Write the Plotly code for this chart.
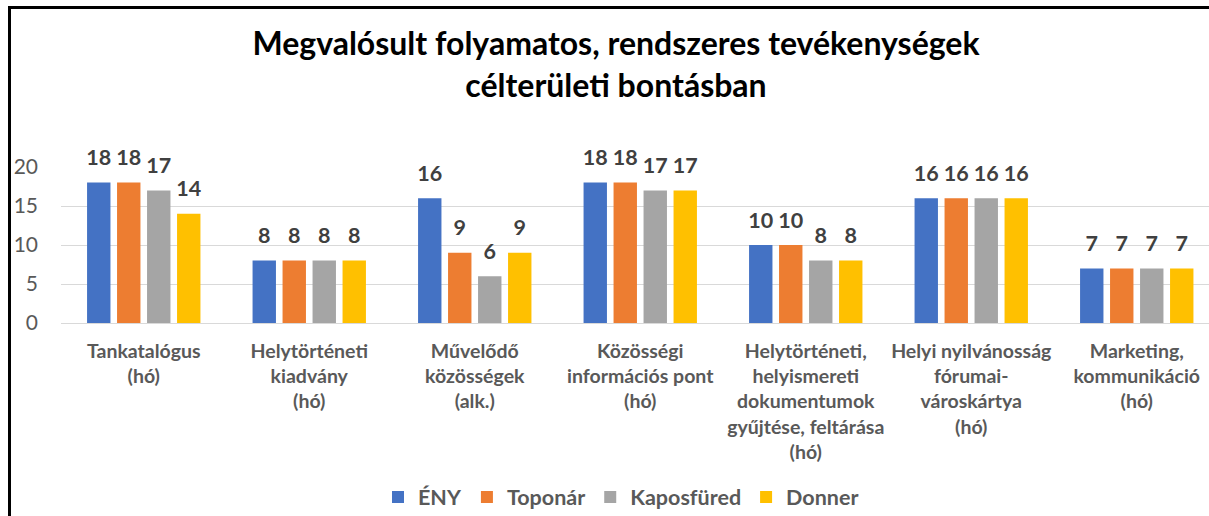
import plotly.graph_objects as go

categories = [
    "Tankatalógus<br>(hó)",
    "Helytörténeti<br>kiadvány<br>(hó)",
    "Művelődő<br>közösségek<br>(alk.)",
    "Közösségi<br>információs pont<br>(hó)",
    "Helytörténeti,<br>helyismereti<br>dokumentumok<br>gyűjtése, feltárása<br>(hó)",
    "Helyi nyilvánosság<br>fórumai-<br>városkártya<br>(hó)",
    "Marketing,<br>kommunikáció<br>(hó)",
]
series_names = ["ÉNY", "Toponár", "Kaposfüred", "Donner"]
eny = [18, 8, 16, 18, 10, 16, 7]
toponar = [18, 8, 9, 18, 10, 16, 7]
kaposfured = [17, 8, 6, 17, 8, 16, 7]
donner = [14, 8, 9, 17, 8, 16, 7]
series_values = [eny, toponar, kaposfured, donner]
colors = ["#4472C4", "#ED7D31", "#A5A5A5", "#FFC000"]
y_ticks = [0, 5, 10, 15, 20]

FONT = "Lato, 'Open Sans', sans-serif"
TXT = "#595959"
W, H = 1209, 516
L, T, B = 61, 167, 193
SLOT = 165.5
BARGAP = 0.275

fig = go.Figure()
for name, vals, col in zip(series_names, series_values, colors):
    fig.add_trace(go.Bar(
        x=categories, y=vals, name=name, marker_color=col,
        marker_line_width=0, hoverinfo="y+name",
    ))
for name, vals in zip(series_names, series_values):
    fig.add_trace(go.Scatter(
        x=categories, y=vals, mode="markers+text", text=[str(v) for v in vals],
        textposition="top center", showlegend=False, hoverinfo="skip",
        marker=dict(size=17.6, opacity=0, color="white"),
        textfont=dict(family=FONT, size=21.5, color="#404040", weight="bold"),
        cliponaxis=False,
    ))

plot_w = W - L
fig.update_layout(
    width=W, height=H,
    margin=dict(l=L, r=0, t=T, b=B, pad=0),
    paper_bgcolor="white", plot_bgcolor="white",
    barmode="group", bargap=BARGAP, bargroupgap=0.22,
    scattermode="group", scattergap=BARGAP,
    font=dict(family=FONT, color=TXT),
    title=dict(
        text="<b>Megvalósult folyamatos, rendszeres tevékenységek<br>célterületi bontásban</b>",
        font=dict(family=FONT, size=32, color="black", weight=900),
        x=616 / W, xanchor="center", xref="container",
        y=1 - 55 / H, yanchor="top", yref="container",
    ),
    xaxis=dict(
        type="category",
        range=[-0.5, -0.5 + plot_w / SLOT],
        showgrid=False, showline=False, ticks="",
        tickfont=dict(family=FONT, size=19.5, color=TXT, weight="bold"),
        ticklabelstandoff=14,
        zeroline=False,
    ),
    yaxis=dict(
        range=[0, 20], tickvals=y_ticks,
        showgrid=True, gridcolor="#D9D9D9", gridwidth=1.3,
        zeroline=True, zerolinecolor="#D9D9D9", zerolinewidth=1.3,
        showline=False, ticks="",
        tickfont=dict(family=FONT, size=21, color=TXT),
        ticklabelstandoff=22,
    ),
    legend=dict(
        orientation="h", x=(621 - L) / plot_w, xanchor="center",
        y=1 - 497 / H, yanchor="middle", yref="container",
        font=dict(family=FONT, size=21.5, color=TXT, weight="bold"),
        itemwidth=30, traceorder="normal",
    ),
    showlegend=True,
)

# outer frame (left and top edges visible in the reference)
fig.add_shape(type="line", xref="paper", yref="paper",
              x0=(9.5 - L) / plot_w, x1=(9.5 - L) / plot_w,
              y0=(H - B - 7.5) / (H - T - B), y1=-(B + 5) / (H - T - B),
              line=dict(color="black", width=3))
fig.add_shape(type="line", xref="paper", yref="paper",
              x0=(8 - L) / plot_w, x1=(W + 5 - L) / plot_w,
              y0=(H - B - 7.5) / (H - T - B), y1=(H - B - 7.5) / (H - T - B),
              line=dict(color="black", width=3))

fig.write_html("out.html", config={"displayModeBar": False},
               post_script="document.body.style.margin='0';")
